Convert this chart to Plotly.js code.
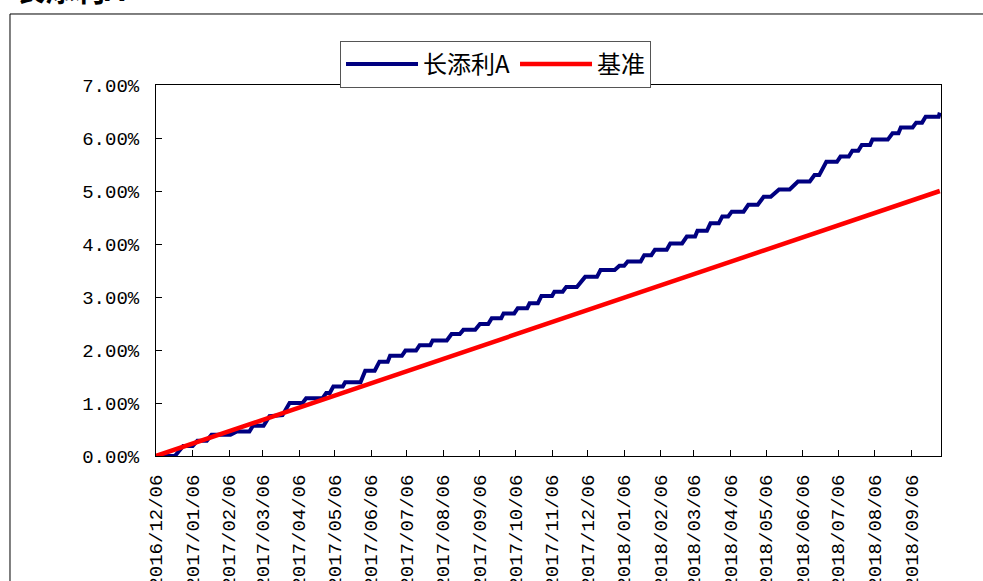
<!DOCTYPE html>
<html>
<head>
<meta charset="utf-8">
<script src="https://cdn.plot.ly/plotly-3.0.1.min.js"></script>
<style>html,body{margin:0;padding:0;background:#fff;}#chart{width:983px;height:581px;}</style>
</head>
<body>
<div id="chart"></div>
<script>
// ---- data ----
const chartTitle = "长添利A";
const seriesNames = ["长添利A", "基准"];

const fundDates = [
  "2016-12-06","2016-12-22","2016-12-29","2017-01-06","2017-01-10","2017-01-18",
  "2017-01-22","2017-02-07","2017-02-12","2017-02-23","2017-02-26","2017-03-07",
  "2017-03-12","2017-03-23","2017-03-29","2017-04-09","2017-04-12","2017-04-26",
  "2017-04-29","2017-05-02","2017-05-05","2017-05-13","2017-05-15","2017-05-28",
  "2017-06-01","2017-06-09","2017-06-13","2017-06-20","2017-06-22","2017-07-02",
  "2017-07-05","2017-07-14","2017-07-17","2017-07-26","2017-07-28","2017-08-09",
  "2017-08-13","2017-08-20","2017-08-23","2017-09-02","2017-09-06","2017-09-13",
  "2017-09-16","2017-09-24","2017-09-26","2017-10-05","2017-10-08","2017-10-16",
  "2017-10-18","2017-10-25","2017-10-28","2017-11-06","2017-11-08","2017-11-15",
  "2017-11-18","2017-11-27","2017-12-04","2017-12-14","2017-12-17","2017-12-29",
  "2018-01-02","2018-01-06","2018-01-09","2018-01-20","2018-01-23","2018-01-29",
  "2018-02-01","2018-02-11","2018-02-14","2018-02-24","2018-02-28","2018-03-07",
  "2018-03-09","2018-03-17","2018-03-20","2018-03-27","2018-03-30","2018-04-04",
  "2018-04-07","2018-04-17","2018-04-21","2018-04-29","2018-05-04","2018-05-10",
  "2018-05-17","2018-05-26","2018-06-02","2018-06-12","2018-06-16","2018-06-20",
  "2018-06-26","2018-07-05","2018-07-08","2018-07-15","2018-07-18","2018-07-23",
  "2018-07-26","2018-08-02","2018-08-04","2018-08-17","2018-08-21","2018-08-26",
  "2018-08-28","2018-09-07","2018-09-10","2018-09-15","2018-09-18","2018-09-29",
  "2018-09-30"
];
const fundValues = [
  0.00,0.00,0.19,0.19,0.29,0.29,
  0.40,0.40,0.46,0.46,0.57,0.57,
  0.75,0.77,1.00,1.00,1.09,1.09,
  1.19,1.19,1.31,1.31,1.39,1.39,
  1.61,1.61,1.78,1.78,1.89,1.89,
  1.99,1.99,2.09,2.09,2.18,2.18,
  2.30,2.30,2.38,2.38,2.49,2.49,
  2.60,2.60,2.69,2.69,2.79,2.79,
  2.88,2.88,3.02,3.02,3.10,3.10,
  3.19,3.19,3.38,3.38,3.51,3.51,
  3.59,3.59,3.67,3.67,3.79,3.79,
  3.89,3.89,4.01,4.01,4.14,4.14,
  4.25,4.25,4.39,4.39,4.52,4.52,
  4.61,4.61,4.74,4.74,4.89,4.89,
  5.03,5.03,5.18,5.18,5.30,5.30,
  5.55,5.55,5.65,5.65,5.76,5.76,
  5.87,5.87,5.97,5.97,6.09,6.09,
  6.20,6.20,6.29,6.29,6.40,6.40,
  6.48
];

const benchDates = ["2016-12-06","2017-06-06","2017-12-06","2018-06-06","2018-09-30"];
const benchValues = [0.00, 1.37, 2.75, 4.12, 5.00];

const yTickVals = [0,1,2,3,4,5,6,7];
const yTickText = ["0.00%","1.00%","2.00%","3.00%","4.00%","5.00%","6.00%","7.00%"];

const xRange = ["2016-12-06","2018-10-01"];
const xTick0 = "2016-12-06";

// ---- chart ----
const tickFont = {family: "Liberation Mono, DejaVu Sans Mono, monospace", size: 19, color: "#000"};

const traces = [
  {
    x: fundDates, y: fundValues, name: seriesNames[0], type: "scatter", mode: "lines",
    line: {color: "#000080", width: 4}
  },
  {
    x: benchDates, y: benchValues, name: seriesNames[1], type: "scatter", mode: "lines",
    line: {color: "#FF0000", width: 4.5}
  }
];

const layout = {
  width: 983, height: 581,
  margin: {l: 156, r: 42, t: 85, b: 125, pad: 0},
  paper_bgcolor: "#fff", plot_bgcolor: "#fff",
  showlegend: true,
  legend: {
    orientation: "h", x: 0.4325, xanchor: "center", y: 1.1186, yanchor: "top",
    bordercolor: "#555", borderwidth: 1, bgcolor: "#fff",
    font: {family: "Noto Sans CJK SC", size: 24, color: "#000"},
    itemwidth: 72, tracegroupgap: 0
  },
  xaxis: {
    type: "date", range: xRange, tick0: xTick0, dtick: "M1", tickformat: "%Y/%m/%d",
    tickangle: -90, ticks: "inside", ticklen: 6, tickcolor: "#000",
    showline: true, linecolor: "#000", linewidth: 1, mirror: true,
    showgrid: false, zeroline: false, tickfont: tickFont, ticklabelstandoff: 10
  },
  yaxis: {
    range: [0, 7], tickvals: yTickVals, ticktext: yTickText,
    ticks: "inside", ticklen: 6, tickcolor: "#000",
    showline: true, linecolor: "#000", linewidth: 1, mirror: true,
    showgrid: false, zeroline: false, tickfont: tickFont, ticklabelstandoff: 12
  },
  shapes: [
    {type: "rect", xref: "paper", yref: "paper", x0: -0.186, x1: 1.2, y0: -0.5, y1: 1.1914,
     line: {color: "#000", width: 1}, fillcolor: "rgba(0,0,0,0)", layer: "below"}
  ],
  annotations: [
    {text: "<b>" + chartTitle + "</b>", xref: "paper", yref: "paper",
     x: -0.1825, xanchor: "left", y: 1.196, yanchor: "bottom", showarrow: false,
     font: {family: "Noto Sans CJK SC", size: 30, color: "#000"}}
  ]
};

Plotly.newPlot("chart", traces, layout, {displayModeBar: false, staticPlot: true});
</script>
</body>
</html>
